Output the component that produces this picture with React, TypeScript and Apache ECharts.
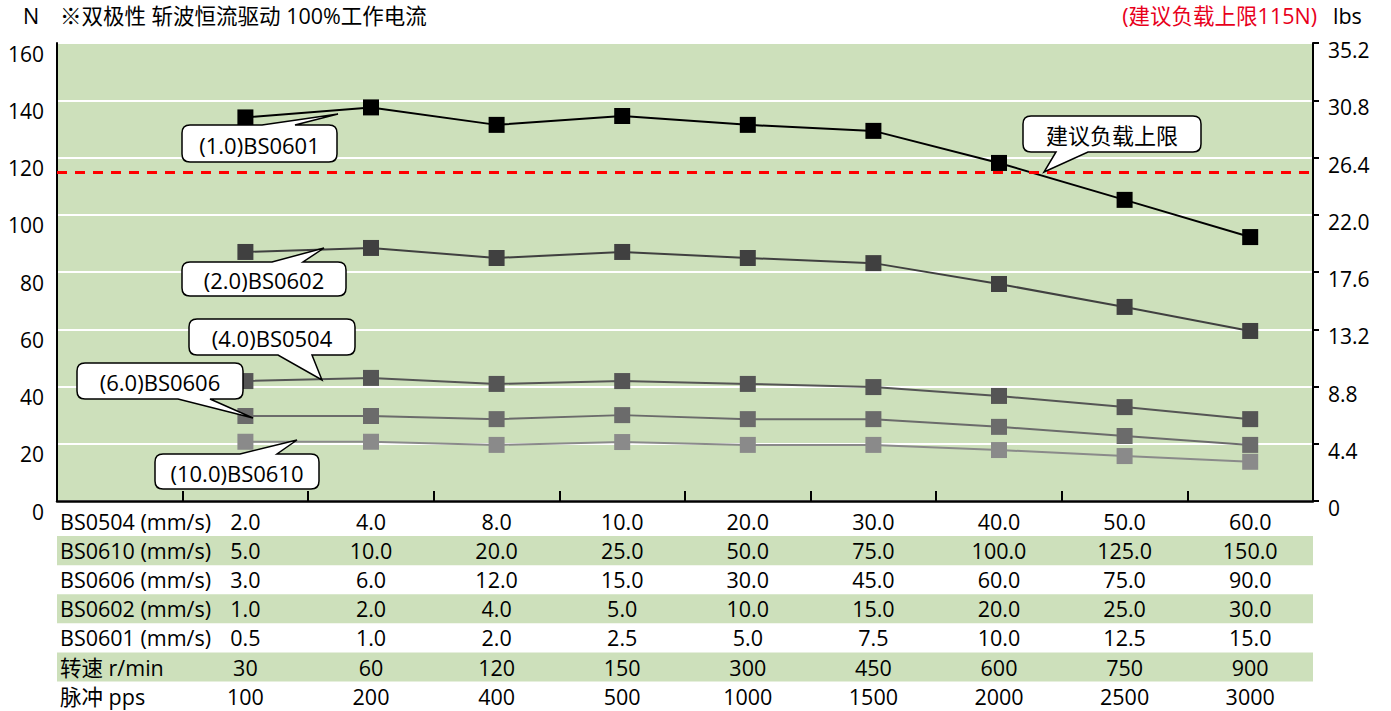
import React, { useEffect, useRef } from 'react';
import * as echarts from 'echarts';

// Pulse rate categories (x axis) and the other speed rows of the table
const pulsePps = ['100', '200', '400', '500', '1000', '1500', '2000', '2500', '3000'];
const speedRpm = ['30', '60', '120', '150', '300', '450', '600', '750', '900'];
const speedBS0504 = ['2.0', '4.0', '8.0', '10.0', '20.0', '30.0', '40.0', '50.0', '60.0'];
const speedBS0610 = ['5.0', '10.0', '20.0', '25.0', '50.0', '75.0', '100.0', '125.0', '150.0'];
const speedBS0606 = ['3.0', '6.0', '12.0', '15.0', '30.0', '45.0', '60.0', '75.0', '90.0'];
const speedBS0602 = ['1.0', '2.0', '4.0', '5.0', '10.0', '15.0', '20.0', '25.0', '30.0'];
const speedBS0601 = ['0.5', '1.0', '2.0', '2.5', '5.0', '7.5', '10.0', '12.5', '15.0'];

// Thrust (N) per model
const thrustBS0601 = [134.0, 137.5, 131.4, 134.5, 131.4, 129.3, 118.1, 105.2, 92.2];
const thrustBS0602 = [87.0, 88.4, 84.9, 87.0, 84.9, 83.1, 75.8, 67.8, 59.4];
const thrustBS0504 = [41.9, 43.0, 40.9, 41.9, 40.9, 39.8, 36.7, 32.8, 28.6];
const thrustBS0606 = [29.7, 29.7, 28.6, 30.0, 28.6, 28.6, 25.9, 22.7, 19.6];
const thrustBS0610 = [20.7, 20.7, 19.6, 20.6, 19.6, 19.6, 17.8, 15.7, 13.7];

const recommendedLimit = 115;

const FONT = '"Open Sans", "Noto Sans CJK SC", sans-serif';
const GREEN = '#cde0bb';

const W = 1391;
const H = 711;
const PLOT_LEFT = 57;
const PLOT_RIGHT = 1313;
const PLOT_TOP = 43;
const PLOT_BOTTOM = 501;
const ROW_H = 29.1;
const FIRST_ROW = 521.5;

type SeriesDef = { name: string; values: number[]; color: string };
const seriesDefs: SeriesDef[] = [
  { name: 'BS0610', values: thrustBS0610, color: '#8a8a8a' },
  { name: 'BS0606', values: thrustBS0606, color: '#6b6b6b' },
  { name: 'BS0504', values: thrustBS0504, color: '#555555' },
  { name: 'BS0602', values: thrustBS0602, color: '#404040' },
  { name: 'BS0601', values: thrustBS0601, color: '#000000' },
];

type TableRow = { label: string; values: string[]; shaded: boolean };
const tableRows: TableRow[] = [
  { label: 'BS0504 (mm/s)', values: speedBS0504, shaded: false },
  { label: 'BS0610 (mm/s)', values: speedBS0610, shaded: true },
  { label: 'BS0606 (mm/s)', values: speedBS0606, shaded: false },
  { label: 'BS0602 (mm/s)', values: speedBS0602, shaded: true },
  { label: 'BS0601 (mm/s)', values: speedBS0601, shaded: false },
  { label: '转速 r/min', values: speedRpm, shaded: true },
  { label: '脉冲 pps', values: pulsePps, shaded: false },
];

// Speech-bubble callouts: box, tail base on top/bottom edge, tail tip
type Callout = {
  text: string;
  x: number; y: number; w: number; h: number;
  side: 'top' | 'bottom';
  b1: number; b2: number;
  tx: number; ty: number;
};
const callouts: Callout[] = [
  { text: '(1.0)BS0601', x: 182, y: 125, w: 155, h: 37, side: 'top', b1: 262, b2: 295, tx: 338, ty: 114 },
  { text: '(2.0)BS0602', x: 182, y: 262, w: 164, h: 34, side: 'top', b1: 272, b2: 303, tx: 324, ty: 248 },
  { text: '(4.0)BS0504', x: 189, y: 319, w: 166, h: 36, side: 'bottom', b1: 278, b2: 312, tx: 322, ty: 380 },
  { text: '(6.0)BS0606', x: 77, y: 363, w: 166, h: 36, side: 'bottom', b1: 178, b2: 210, tx: 253, ty: 418 },
  { text: '(10.0)BS0610', x: 155, y: 454, w: 164, h: 35, side: 'top', b1: 240, b2: 277, tx: 297, ty: 440 },
  { text: '建议负载上限', x: 1023, y: 116, w: 178, h: 36, side: 'bottom', b1: 1056, b2: 1088, tx: 1044, ty: 172 },
];

function calloutPath(c: Callout): string {
  const r = 8;
  const { x, y, w, h } = c;
  const top =
    c.side === 'top'
      ? `L${c.b1},${y} L${c.tx},${c.ty} L${c.b2},${y} `
      : '';
  const bottom =
    c.side === 'bottom'
      ? `L${c.b2},${y + h} L${c.tx},${c.ty} L${c.b1},${y + h} `
      : '';
  return (
    `M${x + r},${y} ` +
    top +
    `L${x + w - r},${y} Q${x + w},${y} ${x + w},${y + r} ` +
    `L${x + w},${y + h - r} Q${x + w},${y + h} ${x + w - r},${y + h} ` +
    bottom +
    `L${x + r},${y + h} Q${x},${y + h} ${x},${y + h - r} ` +
    `L${x},${y + r} Q${x},${y} ${x + r},${y} Z`
  );
}

export default function App() {
  const ref = useRef<HTMLDivElement>(null);

  useEffect(() => {
    if (!ref.current) return;
    callouts.forEach((c, i) => {
      echarts.graphic.registerShape(
        'callout' + i,
        echarts.graphic.extendPath(calloutPath(c), {}) as any
      );
    });

    const chart = echarts.init(ref.current, undefined, { renderer: 'svg' });

    const categories = ['', ...pulsePps];

    const tableAxes = tableRows.map((row, k) => ({
      type: 'category' as const,
      gridIndex: 0,
      position: 'bottom' as const,
      offset: FIRST_ROW + k * ROW_H - PLOT_BOTTOM,
      data: ['', ...row.values],
      boundaryGap: true,
      axisLine: { show: false, onZero: false },
      axisTick: { show: false },
      splitLine: { show: false },
      axisLabel: {
        interval: 0,
        margin: 0,
        verticalAlign: 'middle' as const,
        fontSize: 21.5,
        lineHeight: 20,
        color: '#000',
        fontFamily: FONT,
      },
    }));

    const graphics: any[] = [];

    // Shaded table rows
    tableRows.forEach((row, k) => {
      if (!row.shaded) return;
      graphics.push({
        type: 'rect',
        z: -1,
        shape: {
          x: PLOT_LEFT,
          y: FIRST_ROW + k * ROW_H - ROW_H / 2,
          width: PLOT_RIGHT - PLOT_LEFT,
          height: ROW_H,
        },
        style: { fill: GREEN },
      });
    });

    // Row captions
    tableRows.forEach((row, k) => {
      graphics.push({
        type: 'text',
        x: 60,
        y: FIRST_ROW + k * ROW_H,
        style: {
          text: row.label,
          fill: '#000',
          fontSize: 21.5,
          lineHeight: 20,
          fontFamily: FONT,
          align: 'left',
          verticalAlign: 'middle',
        },
      });
    });

    // Header texts
    graphics.push(
      {
        type: 'text',
        x: 23,
        y: 15,
        style: { text: 'N', fill: '#000', fontSize: 21.5, fontFamily: FONT, align: 'left', verticalAlign: 'middle' },
      },
      {
        type: 'text',
        x: 60,
        y: 15,
        style: {
          text: '※双极性 斩波恒流驱动 100%工作电流',
          fill: '#000',
          fontSize: 21.5,
          fontFamily: FONT,
          align: 'left',
          verticalAlign: 'middle',
        },
      },
      {
        type: 'text',
        x: 1317,
        y: 15,
        style: {
          text: '(建议负载上限115N)',
          fill: '#e8001c',
          fontSize: 21.5,
          fontFamily: FONT,
          align: 'right',
          verticalAlign: 'middle',
        },
      },
      {
        type: 'text',
        x: 1333,
        y: 15,
        style: { text: 'lbs', fill: '#000', fontSize: 21.5, fontFamily: FONT, align: 'left', verticalAlign: 'middle' },
      }
    );

    // Callout bubbles
    callouts.forEach((c, i) => {
      graphics.push({
        type: 'callout' + i,
        z: 100,
        x: 0,
        y: 0,
        style: { fill: '#fff', stroke: '#000', lineWidth: 1.5 },
      });
      graphics.push({
        type: 'text',
        z: 101,
        x: c.x + c.w / 2,
        y: c.y + c.h / 2 + 1,
        style: {
          text: c.text,
          fill: '#000',
          fontSize: 22,
          fontFamily: FONT,
          align: 'center',
          verticalAlign: 'middle',
        },
      });
    });

    chart.setOption({
      animation: false,
      grid: {
        left: PLOT_LEFT,
        right: W - PLOT_RIGHT,
        top: PLOT_TOP,
        bottom: H - PLOT_BOTTOM,
        show: true,
        backgroundColor: GREEN,
        borderWidth: 0,
      },
      xAxis: [
        {
          type: 'category',
          data: categories,
          boundaryGap: true,
          position: 'bottom',
          axisLine: { show: true, onZero: false, lineStyle: { color: '#000', width: 2.5 } },
          axisTick: { show: true, inside: true, length: 10, interval: 0, lineStyle: { color: '#000', width: 2 } },
          axisLabel: { show: false },
          splitLine: { show: false },
        },
        ...tableAxes,
      ],
      yAxis: [
        {
          type: 'value',
          min: 0,
          max: 160,
          interval: 20,
          position: 'left',
          axisLine: { show: true, lineStyle: { color: '#000', width: 2 } },
          axisTick: { show: false },
          axisLabel: {
            fontSize: 21,
            color: '#000',
            fontFamily: FONT,
            margin: 13,
            verticalAlign: 'top',
          },
          splitLine: { show: true, lineStyle: { color: '#fff', width: 2 } },
        },
        {
          type: 'value',
          min: 0,
          max: 35.2,
          interval: 4.4,
          position: 'right',
          axisLine: { show: true, lineStyle: { color: '#000', width: 2 } },
          axisTick: { show: true, length: 6, lineStyle: { color: '#000', width: 2 } },
          axisLabel: {
            fontSize: 21,
            color: '#000',
            fontFamily: FONT,
            margin: 15,
            verticalAlign: 'top',
            lineHeight: 14,
            formatter: (v: number) => (v === 0 ? '0' : v.toFixed(1)),
          },
          splitLine: { show: false },
        },
      ],
      series: seriesDefs.map((s) => ({
        name: s.name,
        type: 'line',
        xAxisIndex: 0,
        yAxisIndex: 0,
        data: pulsePps.map((p, i) => [p, s.values[i]]),
        symbol: 'rect',
        symbolSize: 16,
        showSymbol: true,
        itemStyle: { color: s.color },
        lineStyle: { color: s.color, width: 2 },
        markLine:
          s.name === 'BS0601'
            ? {
                silent: true,
                symbol: 'none',
                label: { show: false },
                lineStyle: { color: '#ff0000', type: [10, 8], width: 3 },
                data: [{ yAxis: recommendedLimit }],
              }
            : undefined,
      })),
      graphic: graphics,
    });

    return () => chart.dispose();
  }, []);

  return (
    <div
      ref={ref}
      style={{ position: 'fixed', left: 0, top: 0, width: W, height: H, background: '#fff' }}
    />
  );
}
